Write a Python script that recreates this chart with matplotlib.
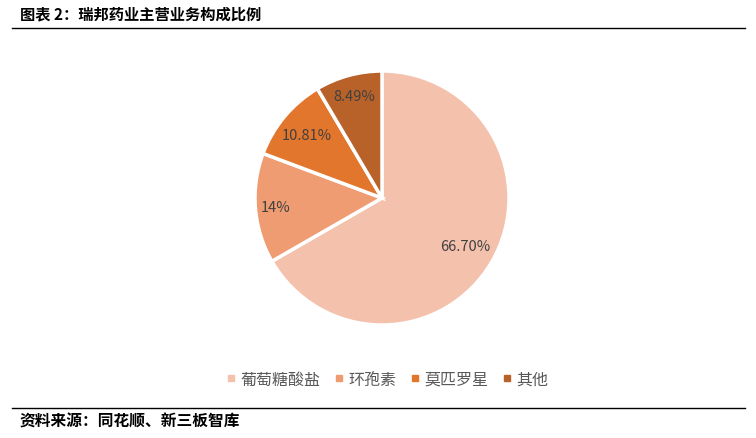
import matplotlib
matplotlib.use("Agg")
import matplotlib.pyplot as plt
import numpy as np

plt.rcParams['font.family'] = ['Noto Sans CJK SC', 'DejaVu Sans']

categories = ['葡萄糖酸盐', '环孢素', '莫匹罗星', '其他']
values = [66.70, 14.00, 10.81, 8.49]
value_labels = ['66.70%', '14%', '10.81%', '8.49%']
colors = ['#F4C1AC', '#EF9C73', '#E2762C', '#B8622A']

W, H = 756, 439
fig = plt.figure(figsize=(W/100, H/100), dpi=100)

cx, cy, r = 382, 199, 127
ax = fig.add_axes([(cx - r)/W, (H - cy - r)/H, 2*r/W, 2*r/H])
wedges, _ = ax.pie(values, colors=colors, startangle=90, counterclock=False,
                   wedgeprops=dict(edgecolor='white', linewidth=2.5))
ax.set_xlim(-1, 1); ax.set_ylim(-1, 1)
ax.set_aspect('auto')
dists = [0.76, 0.84, 0.77, 0.83]
for w, lab, d in zip(wedges, value_labels, dists):
    ang = np.deg2rad((w.theta1 + w.theta2) / 2)
    ax.text(d*np.cos(ang), d*np.sin(ang), lab, ha='center', va='center',
            fontsize=10.5, color='#404040')

# title and rules
fig.text(20/W, 1 - 14/H, '图表 2：瑞邦药业主营业务构成比例', ha='left', va='center',
         fontsize=11, fontweight='bold', color='black')
fig.add_artist(plt.Line2D([12/W, 745/W], [1 - 29/H, 1 - 29/H], color='black', lw=1))
fig.add_artist(plt.Line2D([12/W, 745/W], [1 - 409/H, 1 - 409/H], color='black', lw=1))
fig.text(20/W, 1 - 422/H, '资料来源：同花顺、新三板智库', ha='left', va='center',
         fontsize=11.3, fontweight='bold', color='black')

# legend
handles = [plt.Line2D([], [], marker='s', linestyle='', markersize=5,
                      markerfacecolor=c, markeredgecolor=c) for c in colors]
fig.legend(handles, categories, loc='center', bbox_to_anchor=(386/W, 1 - 380/H),
           ncol=4, frameon=False, fontsize=11.5, labelcolor='#595959',
           handletextpad=0.1, columnspacing=0.75, handlelength=0.9)

fig.savefig('out.png', dpi=100, facecolor='white')
